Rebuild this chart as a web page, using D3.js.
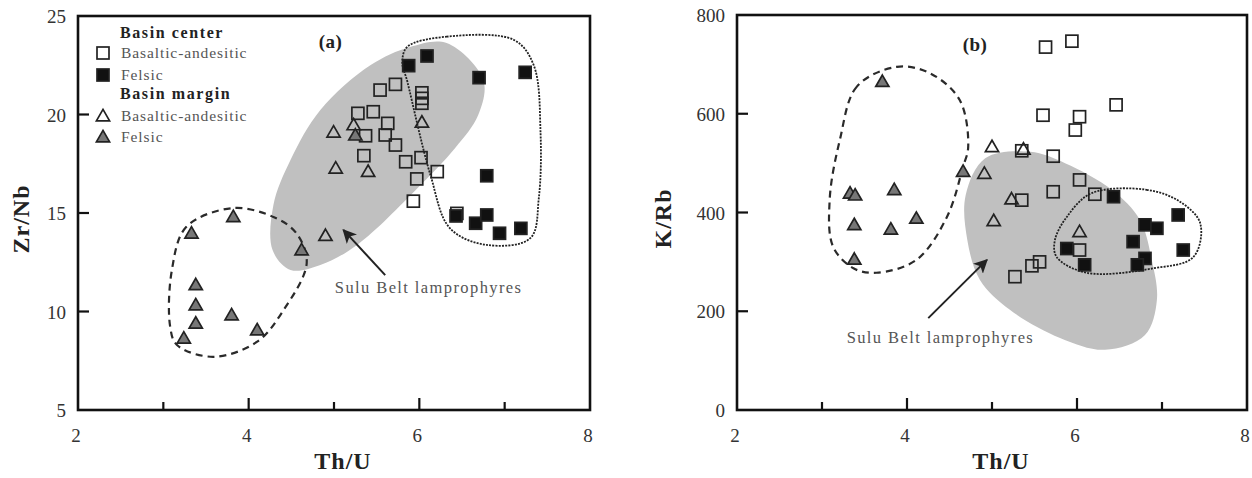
<!DOCTYPE html>
<html>
<head>
<meta charset="utf-8">
<script src="https://cdn.jsdelivr.net/npm/d3@7"></script>
<style>
  body { margin: 0; background: #fff; }
  svg { display: block; }
  .tick-label { font-family: "Liberation Serif", "DejaVu Serif", serif; font-size: 19px; fill: #333; }
  .axis-title { font-family: "Liberation Serif", serif; font-size: 24px; font-weight: bold; fill: #222; letter-spacing: 1px; }
  .note { font-family: "Liberation Serif", serif; font-size: 16.5px; fill: #555; letter-spacing: 1.4px; }
  .legend { font-family: "Liberation Serif", serif; font-size: 15.5px; fill: #555; letter-spacing: 0.9px; }
  .legend-head { font-family: "Liberation Serif", serif; font-size: 16px; font-weight: bold; fill: #222; letter-spacing: 1.6px; }
</style>
</head>
<body>
<svg width="1252" height="478"></svg>
<script>
// ---- panel (a): Th/U vs Zr/Nb ----
const aCenterBasaltic = [
  [5.54, 21.24], [5.72, 21.53], [6.03, 21.1], [6.03, 20.82], [6.03, 20.57],
  [5.28, 20.06], [5.46, 20.14], [5.63, 19.55], [5.37, 18.92], [5.60, 18.96],
  [5.72, 18.45], [5.35, 17.91], [5.84, 17.60], [6.02, 17.81], [6.21, 17.1],
  [5.97, 16.73], [5.93, 15.6], [6.44, 14.98]
];
const aCenterFelsic = [
  [5.875, 22.48], [6.09, 22.97], [6.70, 21.87], [7.24, 22.14], [6.79, 16.89],
  [6.43, 14.85], [6.66, 14.48], [6.79, 14.9], [6.94, 13.97], [7.19, 14.22]
];
const aMarginBasaltic = [
  [4.995, 19.1], [5.23, 19.47], [6.03, 19.6], [5.02, 17.27], [5.40, 17.1], [4.90, 13.85]
];
const aMarginFelsic = [
  [5.25, 18.95], [3.82, 14.81], [3.33, 13.97], [4.62, 13.12], [3.38, 11.35],
  [3.38, 10.33], [3.38, 9.40], [3.80, 9.82], [4.10, 9.06], [3.24, 8.64]
];
const aSuluField = [
  [6.32, 23.63], [6.75, 21.75], [6.69, 19.97], [6.42, 18.30], [5.98, 16.27],
  [5.27, 13.38], [4.84, 12.36], [4.49, 12.11], [4.28, 13.12], [4.29, 15.41],
  [4.49, 17.69], [4.84, 20.23], [5.43, 22.51], [5.89, 23.43]
];
const aMarginHull = [
  [3.82, 15.25], [3.27, 14.3], [3.10, 12.1], [3.08, 9.23], [3.16, 8.3],
  [3.59, 7.7], [4.10, 8.47], [4.41, 10.08], [4.68, 12.45], [4.56, 13.97], [4.29, 14.8]
];
const aCenterHull = [
  [5.86, 23.44], [6.32, 23.95], [7.11, 23.78], [7.34, 22.51], [7.42, 19.13],
  [7.40, 15.75], [7.30, 13.72], [6.79, 13.38], [6.36, 14.22], [6.13, 16.93],
  [5.86, 21.66], [5.80, 22.68]
];

// ---- panel (b): Th/U vs K/Rb ----
const bCenterBasaltic = [
  [5.63, 735], [5.94, 747], [5.60, 597], [6.03, 594], [5.98, 567], [6.46, 618],
  [5.35, 525], [5.72, 514], [6.03, 466], [5.72, 442], [5.35, 425], [6.21, 437],
  [6.03, 324], [5.27, 270], [5.47, 292], [5.56, 300]
];
const bCenterFelsic = [
  [6.43, 432], [5.88, 327], [6.09, 294], [7.19, 395], [6.80, 375], [6.94, 368],
  [6.66, 341], [7.25, 324], [6.80, 307], [6.71, 294]
];
const bMarginBasaltic = [
  [5.0, 533], [5.37, 528], [4.91, 479], [5.23, 427], [5.02, 383], [6.03, 361]
];
const bMarginFelsic = [
  [3.71, 665], [3.33, 439], [3.39, 435], [3.85, 446], [4.11, 388],
  [3.38, 375], [3.81, 366], [3.38, 305], [4.66, 483]
];
const bSuluField = [
  [4.92, 510], [5.45, 523], [5.86, 500], [6.41, 446], [6.74, 385], [6.88, 304],
  [6.94, 223], [6.80, 152], [6.33, 122], [5.80, 146], [5.21, 203], [4.86, 263],
  [4.71, 344], [4.69, 435]
];
const bMarginHull = [
  [3.88, 695], [3.41, 655], [3.21, 547], [3.09, 425], [3.13, 331], [3.37, 287],
  [3.64, 278], [4.11, 304], [4.47, 391], [4.66, 493], [4.72, 533], [4.62, 628], [4.27, 682]
];
const bCenterHull = [
  [6.17, 439], [6.82, 446], [7.21, 422], [7.45, 378], [7.37, 310], [6.90, 287],
  [6.11, 278], [5.76, 310], [5.74, 344], [5.88, 391]
];

const xTicks = [2, 4, 6, 8];
const xMinorTicks = [3, 5, 7];
const aYTicks = [5, 10, 15, 20, 25];
const bYTicks = [0, 200, 400, 600, 800];

const svg = d3.select("svg");
svg.append("rect").attr("width", 1252).attr("height", 478).attr("fill", "#fff");

svg.append("defs").append("marker")
  .attr("id", "head")
  .attr("viewBox", "0 0 10 10")
  .attr("refX", 9).attr("refY", 5)
  .attr("markerWidth", 14).attr("markerHeight", 14)
  .attr("markerUnits", "userSpaceOnUse")
  .attr("orient", "auto")
  .append("path").attr("d", "M0,0 L10,5 L0,10 L2.5,5 Z").attr("fill", "#222");

function drawPanel(p) {
  const x = d3.scaleLinear().domain([2, 8]).range([p.left, p.right]);
  const y = d3.scaleLinear().domain(p.yDomain).range([p.bottom, p.top]);
  const g = svg.append("g");
  const line = d3.line().x(d => x(d[0])).y(d => y(d[1])).curve(d3.curveCatmullRomClosed.alpha(0.5));

  g.append("path").attr("d", line(p.field)).attr("fill", "#c0c0c0");
  g.append("path").attr("d", line(p.marginHull)).attr("fill", "none")
    .attr("stroke", "#2a2a2a").attr("stroke-width", 2.2).attr("stroke-dasharray", "7,5");
  g.append("path").attr("d", line(p.centerHull)).attr("fill", "none")
    .attr("stroke", "#222").attr("stroke-width", 1.8).attr("stroke-dasharray", "2,1.2");

  // axes frame
  g.append("rect").attr("x", p.left).attr("y", p.top)
    .attr("width", p.right - p.left).attr("height", p.bottom - p.top)
    .attr("fill", "none").attr("stroke", "#111").attr("stroke-width", 2.6);

  // ticks (inside)
  g.selectAll(".xt").data(xTicks.slice(1, -1)).join("line")
    .attr("x1", d => x(d)).attr("x2", d => x(d))
    .attr("y1", p.bottom).attr("y2", p.bottom - 12)
    .attr("stroke", "#111").attr("stroke-width", 2.2);
  g.selectAll(".xm").data(xMinorTicks).join("line")
    .attr("x1", d => x(d)).attr("x2", d => x(d))
    .attr("y1", p.bottom).attr("y2", p.bottom - 8)
    .attr("stroke", "#111").attr("stroke-width", 2.2);
  g.selectAll(".yt").data(p.yTicks.slice(1, -1)).join("line")
    .attr("x1", p.left).attr("x2", p.left + 11)
    .attr("y1", d => y(d)).attr("y2", d => y(d))
    .attr("stroke", "#111").attr("stroke-width", 2.2);

  g.selectAll(".xl").data(xTicks).join("text").attr("class", "tick-label")
    .attr("x", d => x(d) - 2).attr("y", p.bottom + 32)
    .attr("text-anchor", "middle").text(d => d);
  g.selectAll(".yl").data(p.yTicks).join("text").attr("class", "tick-label")
    .attr("x", p.left - 12).attr("y", d => y(d) + 7)
    .attr("text-anchor", "end").text(d => d);

  g.append("text").attr("class", "axis-title")
    .attr("x", (p.left + p.right) / 2 + 9).attr("y", p.bottom + 59)
    .attr("text-anchor", "middle").text("Th/U");
  g.append("text").attr("class", "axis-title")
    .attr("transform", `translate(${p.yTitleX},${(p.top + p.bottom) / 2 + 6}) rotate(-90)`)
    .attr("text-anchor", "middle").text(p.yTitle);

  g.append("text").attr("class", "axis-title").style("font-size", "19px").style("letter-spacing", "0.5px")
    .attr("x", x(p.tag[0])).attr("y", y(p.tag[1]) + 6)
    .attr("text-anchor", "middle").text(p.tag[2]);

  // arrow + note
  g.append("line")
    .attr("x1", x(p.arrow[0][0])).attr("y1", y(p.arrow[0][1]))
    .attr("x2", x(p.arrow[1][0])).attr("y2", y(p.arrow[1][1]))
    .attr("stroke", "#222").attr("stroke-width", 2).attr("marker-end", "url(#head)");
  g.append("text").attr("class", "note")
    .attr("x", x(p.noteAt[0])).attr("y", y(p.noteAt[1]) + 5)
    .text("Sulu Belt lamprophyres");

  drawSquares(g, p.cBas, x, y, "none");
  drawTriangles(g, p.mBas, x, y, "none");
  drawTriangles(g, p.mFel, x, y, "#777");
  drawSquares(g, p.cFel, x, y, "#111");
}

function drawSquares(g, data, x, y, fill) {
  g.append("g").selectAll("rect").data(data).join("rect")
    .attr("x", d => x(d[0]) - 6).attr("y", d => y(d[1]) - 6)
    .attr("width", 12).attr("height", 12)
    .attr("fill", fill).attr("stroke", "#222").attr("stroke-width", 1.7);
}

const tri = d3.symbol().type(d3.symbolTriangle).size(75);
function drawTriangles(g, data, x, y, fill) {
  g.append("g").selectAll("path").data(data).join("path")
    .attr("d", tri)
    .attr("transform", d => `translate(${x(d[0])},${y(d[1]) + 1})`)
    .attr("fill", fill).attr("stroke", "#222").attr("stroke-width", 1.7);
}

drawPanel({
  left: 78, right: 590, top: 16, bottom: 410,
  yDomain: [5, 25], yTicks: aYTicks, yTitle: "Zr/Nb", yTitleX: 29,
  field: aSuluField, marginHull: aMarginHull, centerHull: aCenterHull,
  cBas: aCenterBasaltic, cFel: aCenterFelsic, mBas: aMarginBasaltic, mFel: aMarginFelsic,
  tag: [4.96, 23.68, "(a)"],
  arrow: [[5.60, 11.85], [5.11, 14.14]],
  noteAt: [5.01, 11.19]
});

drawPanel({
  left: 737, right: 1247, top: 15, bottom: 410,
  yDomain: [0, 800], yTicks: bYTicks, yTitle: "K/Rb", yTitleX: 671,
  field: bSuluField, marginHull: bMarginHull, centerHull: bCenterHull,
  cBas: bCenterBasaltic, cFel: bCenterFelsic, mBas: bMarginBasaltic, mFel: bMarginFelsic,
  tag: [4.80, 739, "(b)"],
  arrow: [[4.25, 186], [4.94, 304]],
  noteAt: [3.29, 146]
});

// legend, panel (a)
const legendRows = [
  { kind: "head", label: "Basin center", y: 33 },
  { kind: "sq", fill: "none", label: "Basaltic-andesitic", y: 53 },
  { kind: "sq", fill: "#111", label: "Felsic", y: 75 },
  { kind: "head", label: "Basin margin", y: 94 },
  { kind: "tri", fill: "none", label: "Basaltic-andesitic", y: 116 },
  { kind: "tri", fill: "#777", label: "Felsic", y: 137 }
];
const lg = svg.append("g");
legendRows.forEach(r => {
  if (r.kind === "head") {
    lg.append("text").attr("class", "legend-head").attr("x", 120).attr("y", r.y + 5).text(r.label);
    return;
  }
  if (r.kind === "sq") {
    lg.append("rect").attr("x", 97).attr("y", r.y - 6).attr("width", 12).attr("height", 12)
      .attr("fill", r.fill).attr("stroke", "#222").attr("stroke-width", 1.7);
  } else {
    lg.append("path").attr("d", tri).attr("transform", `translate(103,${r.y + 1})`)
      .attr("fill", r.fill).attr("stroke", "#222").attr("stroke-width", 1.7);
  }
  lg.append("text").attr("class", "legend").attr("x", 121).attr("y", r.y + 5).text(r.label);
});
</script>
</body>
</html>
